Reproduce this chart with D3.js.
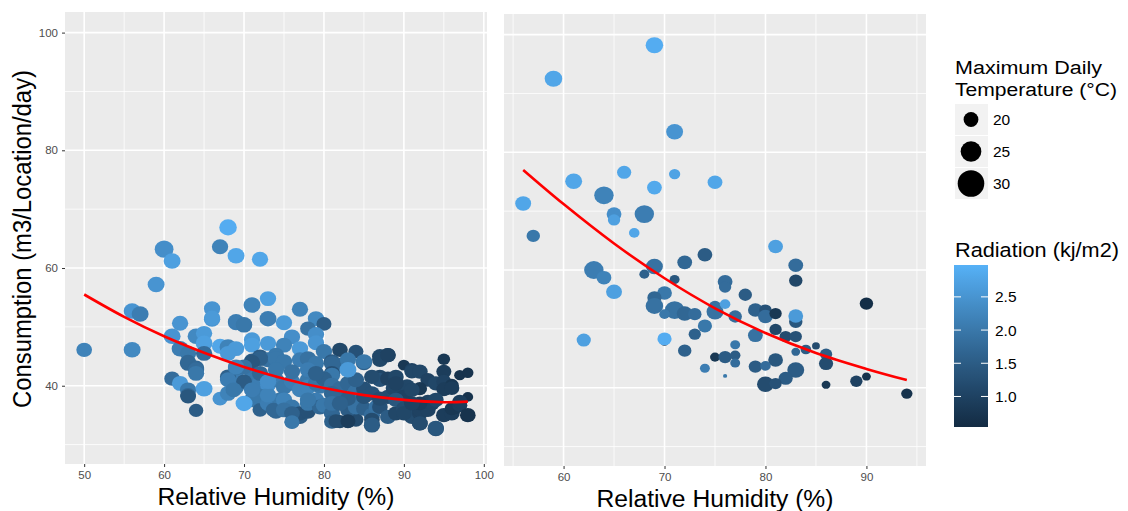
<!DOCTYPE html>
<html><head><meta charset="utf-8">
<script src="https://cdn.jsdelivr.net/npm/d3@7/dist/d3.min.js"></script>
<style>body{margin:0;background:#fff;}svg{display:block;font-family:"Liberation Sans",Arial,sans-serif;}</style>
</head><body><svg id="c" width="1128" height="511"></svg>
<script>
// ---- data: [humidity %, consumption, max temp °C, radiation kj/m2]
const leftPoints = [
[68,66.9,21.5,2.9],[60,63.2,22.5,2.4],[61,61.2,21,2.7],[67,63.6,20.5,2.2],[69,62.1,21,2.8],[72,61.5,20.5,2.8],
[59,57.2,21,2.5],[73,54.8,20.5,2.7],[71,53.7,21,2.2],[66,53.1,20.5,2.5],[77,53.0,20.5,2.2],[56,52.7,21,2.5],
[57,52.2,21,2.1],[73,51.4,21,2.1],[75,50.7,20.5,2.6],[66,51.3,20.5,2.5],[66,51.5,20.5,2.6],[62,50.6,20.5,2.5],[69,50.7,20.5,2.1],
[69,50.9,20.5,2.1],[70,50.3,20.5,2.0],[70,50.4,20.5,2.0],[79,51.4,20.5,2.3],[80,50.5,19.5,1.5],[78,49.7,20,1.9],[76,48.3,20.5,2.4],[79,48.7,20.5,2.4],
[79,47.3,20.5,2.5],[61,48.4,21,2.5],[64,48.4,21,2.3],[65,48.9,20.5,2.6],[65,47.2,21,2.7],[71,47.8,20.5,2.6],
[73,47.2,20.5,2.6],[71,46.9,20.5,2.7],[67,46.7,20.5,2.8],[68,46.6,21,2.2],[69,46.3,20.5,2.6],[75,46.9,20.5,2.2],[77,46.3,20.5,2.6],
[50,46.1,20,2.2],[56,46.1,21,2.3],[62,46.3,21,2.1],[63,45.5,20.5,2.0],[65,45.5,20.5,1.8],[80,45.8,20.5,2.0],
[82,46.1,20,1.1],[84,45.8,19.5,1.3],[87,45.0,20,1.1],[88,45.2,20,1.0],[85,43.9,20.5,1.6],[95,44.5,17.5,0.8],
[63,43.8,20.5,1.7],[63,44.0,20.5,1.7],[64,43.0,20.5,1.7],[64,42.7,20.5,1.8],[64,42.1,20.5,2.0],[71,44.2,20.5,1.5],[72,44.9,20.5,1.5],[73,44.4,20.5,1.9],
[72,44.6,20.5,1.6],[71,44.0,20.5,1.4],[74,45.2,20.5,2.0],
[74,44.6,20.5,2.0],[75,44.1,20.5,2.0],[77,44.4,20.5,2.1],[78,44.6,20.5,1.9],[79,43.8,20.5,2.0],[81,44.1,20.5,1.5],
[82,43.5,20.5,1.7],[81,43.8,20.5,1.7],[81,42.1,20.5,1.3],[87,44.4,20,1.1],[88,45.2,20,1.0],[85,44.1,20.5,2.0],
[90,43.5,17,0.8],[91,42.7,19.5,1.0],[91,42.4,19.5,1.1],[92,42.4,20,1.1],[95,42.4,19.5,0.9],
[97,41.8,16.5,0.7],[98,42.2,16.5,0.7],[87,41.5,20,1.1],[87,41.0,20,1.3],[88,41.2,20,1.0],[89,41.5,20,1.1],[93,41.0,19.5,1.0],
[94,40.4,20,1.1],[95,40.7,19.5,1.0],[96,40.1,18.5,0.8],[95,39.4,19.5,0.9],[96,39.6,19.5,0.9],[92,39.5,19,0.8],[61,41.2,20,1.8],[62,40.4,20.5,2.6],
[63,39.3,20.5,2.0],[63,38.4,20,1.7],[63,38.2,20,1.4],[65,39.5,21,2.7],[64,35.8,19,1.5],[67,37.8,19.5,2.5],[68,38.7,20.5,2.2],
[69,39.8,20.5,2.0],[69,41.6,20.5,2.1],[68,41.5,20.5,1.6],[69,43.0,20.5,2.0],[71,41.5,20.5,2.0],[72,40.4,20.5,2.1],[73,40.1,20,2.4],[74,41.0,20.5,2.1],
[73,40.7,20.5,2.4],[76,40.4,20.5,2.0],[78,41.0,20.5,2.0],[79.5,39.9,20.5,2.0],[81,41.8,20.5,2.0],
[75,39.8,20.5,2.0],[76,40.7,20.5,2.1],[77,39.3,20.5,2.2],[78,39.8,20.5,2.2],[79,40.4,20.5,1.9],[80,41.2,20.5,1.6],
[81,40.1,20.5,1.9],[82,39.5,20.5,1.8],[83,40.4,20.5,1.7],[84,39.0,20.5,1.9],[85,39.5,20,1.3],[86,38.7,20,1.3],[88,38.1,20,1.2],
[89,39.3,20,1.2],[88.7,39.6,20,1.1],[90.4,39.9,20,1.1],[90,38.1,20,1.0],[91,39.3,20,1.1],[76,42.4,20.5,1.9],[78,42.7,20.5,2.1],[79,42.1,20.5,1.6],
[74,42.7,20.5,2.0],[72,42.1,20.5,1.7],[70,43.2,20.5,1.9],[69,43.2,20.5,2.2],[68,45.5,20.5,2.6],[83,44.4,20.5,2.0],
[86,41.5,20,1.2],[84,41.0,20.5,1.6],[89,40.4,20,1.0],[70,40.7,20,1.5],[68,41.0,20.5,2.1],[68.7,39.3,20.5,2.0],
[71,37.6,20.5,2.0],[72,38.2,20.5,2.0],[72,35.9,19.5,1.6],[73,37.0,20.5,2.1],[74.5,37.6,20.5,2.0],[74,35.6,20,1.7],[73.7,35.9,20,1.7],[75,37.6,20.5,2.2],[76,33.9,19.5,1.9],
[76,36.4,20.5,2.0],[77,34.7,20,1.5],[77,35.3,20,1.3],[78,35.6,20,1.3],[78,37.0,20.5,2.0],[79,37.6,20.5,2.1],[79.5,36.4,20.5,1.7],[80,36.7,20.5,2.0],[81,35.3,20.5,1.7],
[82,33.9,19,1.1],[83,33.9,19,1.2],[84,34.2,19.5,1.2],[83,35.9,20,1.5],[84,37.0,20.5,1.8],[84,36.4,20.5,1.9],[82.5,37.6,20.5,1.7],[85,36.1,20,1.6],
[86,35.0,20.5,1.8],[86.6,36.4,20.5,1.9],[86,33.3,20.5,1.4],[87,36.4,20,1.3],[88,34.7,20,1.5],[89,35.3,20,1.1],[89,37.6,20,1.4],[90,36.1,20,1.2],
[91,34.7,20,1.2],[92,35.3,20,1.0],[92,35.9,20,1.0],[90,35.3,20,1.1],[92,33.6,20,1.1],[93,35.9,20,1.0],[93.5,37.0,20,1.0],[94,32.7,20.5,1.3],[95,35.0,20,0.9],
[96,35.3,20,0.9],[96.5,36.4,19.5,0.8],[96,36.1,19,0.8],[97,36.7,19.5,0.9],[98,35.0,20,0.7],[98,38.1,16,0.7],[97,37.3,19.5,0.9],[81,38.7,20.5,1.7],
[83,37.8,20,1.5],[85,38.1,20,1.3],[87,37.8,20,1.2],[93,37.3,19.5,1.0],[94,37.6,20,1.1],[92,37.0,19.5,0.9],
[91,37.0,20,1.0],[81,37.0,20.5,1.9],[82,37.0,20.5,1.6],[78,37.6,20.5,2.0],[75,35.9,20.5,1.9],[76,35.3,20,1.6],
[73,38.4,20.5,2.2],[71,39.3,20.5,2.1],[81,33.9,20,1.6],[86,34.2,20,1.2],[81.5,34.0,19.5,1.2],[83,34.0,19.5,0.9],
[86,33.4,20,1.5],[92,33.6,20,1.2],[94,32.8,20.5,1.4],[76,33.8,19.5,2.0],[70,37.0,21,2.8],[83,42.7,21,2.6],[73,40.7,20.5,2.4]
];
const rightPoints = [
[69,98.2,21.5,2.9],[59,92.5,21.5,2.8],[71,83.5,21,2.5],[66,76.6,18.8,2.8],[71,76.3,16.5,2.75],[61,75.1,21,2.8],
[75,74.9,19.3,2.8],[69,74.0,19.3,2.85],[64,72.7,23,2.2],[56,71.3,20.2,2.8],[65,69.5,19.3,2.4],[65,68.5,17.3,2.7],
[68,69.5,23,2.1],[67,66.3,15.9,2.8],[57,65.8,18.2,2.0],[81,64.0,19.3,2.7],[74,62.6,19.3,1.5],[72,61.3,19.3,1.7],
[83,60.8,19.3,1.8],[63,60.0,23,2.1],[69,60.6,21,1.9],[68,59.3,15.4,1.6],[64,58.7,19.3,2.2],[71,58.4,15.4,1.4],
[83,58.2,18.2,1.1],[76,58.0,19.3,1.8],[76,57.1,17.3,1.8],[65,56.3,20.2,2.7],[70,56.1,19.3,2.0],[78,55.8,18.2,1.5],
[69,55.3,18.8,1.7],[69,53.9,21.5,1.9],[90,54.3,18.2,0.6],[71,53.2,23,1.9],[72,52.6,20.2,1.7],[73,52.5,18.2,1.8],
[75,53.8,17.3,1.9],[75,52.9,21,1.9],[76,54.2,15.9,2.7],[70,52.5,15.9,2.0],[77,52.1,18.2,1.8],[79,53.2,19.3,1.6],
[80,53.2,17.3,1.3],[80,52.1,19.3,1.8],[81,52.6,17.3,0.8],[83,51.2,18.2,1.4],[83,52.2,19.3,2.6],[74,50.5,18.8,2.0],
[81,49.9,17.3,1.1],[73,49.1,17.3,1.6],[79,48.9,19.3,1.9],[82,48.7,17.3,1.2],[83,48.7,17.3,1.3],[62,48.1,18.8,2.7],
[70,47.7,13.1,0.7],[70,48.3,18.8,2.9],[77,47.3,15.4,2.0],[85,47.1,13.7,1.2],[84,46.5,15.9,1.5],[72,46.3,18.2,1.6],
[83,46.1,14.5,1.7],[86,45.7,17.3,1.5],[75,45.2,15.4,0.8],[76,45.2,18.2,1.5],[77,45.5,15.9,1.5],[77,44.2,15.4,1.8],
[81,44.7,19.3,1.4],[86,44.1,18.8,1.2],[79,43.6,18.2,1.5],[80,43.7,15.9,1.8],[74,43.3,15.4,2.1],[83,43.0,21,1.5],
[76,42.0,10.8,2.0],[82,41.6,18.8,1.5],[80,40.6,21,1.2],[81,40.7,17.3,1.3],[86,40.5,14.5,0.8],[89,41.1,17.3,1.0],
[90,41.9,14.5,0.7],[94,39.0,16.5,0.7]
];
// fitted trend lines
const leftFitX = [50,55,60,65,70,75,80,85,90,95,98];
const leftFitY = [55.5,51.7,48.4,45.6,43.2,41.2,39.6,38.4,37.6,37.2,37.3];
const rightFitX = [56,60,65,70,75,80,85,90,94];
const rightFitY = [77.0,71.2,64.5,58.6,53.5,49.3,45.9,43.2,41.3];
const yTicks = [40,60,80,100];
const yMinor = [30,50,70,90];
const leftXTicks = [50,60,70,80,90,100];
const rightXTicks = [60,70,80,90];
const xMinor = [55,65,75,85,95];
const sizeBreaks = [20,25,30];
const radBreaks = [1.0,1.5,2.0,2.5];

const svg = d3.select("#c");
const color = d3.scaleLinear().domain([0.54,2.98]).range(["#132B43","#56B1F7"]).interpolate(d3.interpolateLab);
const size = d3.scaleLinear().domain([10,30]).range([1.5,13.3]);

function panel(cfg){
  const g = svg.append("g");
  const x = d3.scaleLinear().domain(cfg.xdom).range([cfg.x0,cfg.x1]);
  const y = d3.scaleLinear().domain([26.7,103.5]).range([cfg.y1,cfg.y0]);
  g.append("rect").attr("x",cfg.x0).attr("y",cfg.y0).attr("width",cfg.x1-cfg.x0).attr("height",cfg.y1-cfg.y0).attr("fill","#EBEBEB");
  g.selectAll(null).data(yMinor).join("line")
    .attr("x1",cfg.x0).attr("x2",cfg.x1).attr("y1",d=>y(d)).attr("y2",d=>y(d)).attr("stroke","#fff").attr("stroke-width",0.8);
  g.selectAll(null).data(xMinor).join("line")
    .attr("y1",cfg.y0).attr("y2",cfg.y1).attr("x1",d=>x(d)).attr("x2",d=>x(d)).attr("stroke","#fff").attr("stroke-width",0.8);
  g.selectAll(null).data(yTicks).join("line")
    .attr("x1",cfg.x0).attr("x2",cfg.x1).attr("y1",d=>y(d)).attr("y2",d=>y(d)).attr("stroke","#fff").attr("stroke-width",1.6);
  g.selectAll(null).data(cfg.xticks).join("line")
    .attr("y1",cfg.y0).attr("y2",cfg.y1).attr("x1",d=>x(d)).attr("x2",d=>x(d)).attr("stroke","#fff").attr("stroke-width",1.6);
  const xa = g.append("g").attr("transform",`translate(0,${cfg.y1})`)
    .call(d3.axisBottom(x).tickValues(cfg.xticks).tickSize(3).tickPadding(4).tickFormat(d3.format("d")));
  xa.select(".domain").remove();
  xa.selectAll("line").attr("stroke","#333");
  xa.selectAll("text").attr("fill","#4D4D4D").attr("font-size",11.5).attr("font-family","Liberation Sans, Arial, sans-serif");
  if(cfg.yaxis){
    const ya = g.append("g").attr("transform",`translate(${cfg.x0},0)`)
      .call(d3.axisLeft(y).tickValues(yTicks).tickSize(3).tickPadding(4));
    ya.select(".domain").remove();
    ya.selectAll("line").attr("stroke","#333");
    ya.selectAll("text").attr("fill","#4D4D4D").attr("font-size",11.5).attr("font-family","Liberation Sans, Arial, sans-serif");
  }
  g.selectAll(null).data(cfg.points).join("ellipse")
    .attr("cx",d=>x(d[0])).attr("cy",d=>y(d[1])).attr("rx",d=>size(d[2])*1.06).attr("ry",d=>size(d[2])*0.97).attr("fill",d=>color(d[3]));
  const fit = cfg.fitX.map((v,i)=>[v,cfg.fitY[i]]);
  g.append("path").datum(fit).attr("fill","none").attr("stroke","#FF0000").attr("stroke-width",2.6)
    .attr("d",d3.line().x(d=>x(d[0])).y(d=>y(d[1])).curve(d3.curveCatmullRom));
  g.append("text").attr("x",(cfg.x0+cfg.x1)/2).attr("y",cfg.y1+41).attr("text-anchor","middle")
    .attr("font-size",23).attr("fill","#000").attr("textLength",237).attr("lengthAdjust","spacingAndGlyphs")
    .text("Relative Humidity (%)");
}

panel({x0:65,x1:487,y0:12,y1:464,xdom:[47.6,100.4],xticks:leftXTicks,
  points:leftPoints,fitX:leftFitX,fitY:leftFitY,yaxis:true});
panel({x0:504,x1:926,y0:14,y1:466,xdom:[54.1,95.9],xticks:rightXTicks,
  points:rightPoints,fitX:rightFitX,fitY:rightFitY,yaxis:false});

svg.append("text").attr("transform","translate(31,239) scale(1.12,1) rotate(-90)").attr("text-anchor","middle")
  .attr("font-size",23.5).attr("fill","#000").attr("textLength",338).attr("lengthAdjust","spacingAndGlyphs")
  .text("Consumption (m3/Location/day)");

const lg = svg.append("g");
lg.append("text").attr("x",955).attr("y",73.5).attr("font-size",19.2).attr("textLength",147).attr("lengthAdjust","spacingAndGlyphs").text("Maximum Daily");
lg.append("text").attr("x",955).attr("y",95.5).attr("font-size",19.2).attr("textLength",162).attr("lengthAdjust","spacingAndGlyphs").text("Temperature (°C)");
sizeBreaks.forEach((v,i)=>{
  const yy = 104 + i*32;
  lg.append("rect").attr("x",955).attr("y",yy).attr("width",33).attr("height",31).attr("fill","#F2F2F2");
  lg.append("circle").attr("cx",971).attr("cy",yy+15.5).attr("r",size(v)).attr("fill","#000");
  lg.append("text").attr("x",993).attr("y",yy+15.5).attr("dy","0.36em").attr("font-size",15.5).text(v);
});

lg.append("text").attr("x",955).attr("y",257).attr("font-size",20.5).attr("textLength",164).attr("lengthAdjust","spacingAndGlyphs").text("Radiation (kj/m2)");
const cb = d3.scaleLinear().domain([0.54,2.98]).range([427,265]);
const defs = svg.append("defs");
const grad = defs.append("linearGradient").attr("id","rg").attr("x1",0).attr("y1",1).attr("x2",0).attr("y2",0);
d3.range(0,1.0001,0.05).forEach(t=>{
  grad.append("stop").attr("offset",t).attr("stop-color",color(0.54+t*(2.98-0.54)));
});
lg.append("rect").attr("x",954).attr("y",265).attr("width",34).attr("height",162).attr("fill","url(#rg)");
radBreaks.forEach(v=>{
  lg.append("line").attr("x1",954).attr("x2",961).attr("y1",cb(v)).attr("y2",cb(v)).attr("stroke","#fff").attr("stroke-width",1);
  lg.append("line").attr("x1",981).attr("x2",988).attr("y1",cb(v)).attr("y2",cb(v)).attr("stroke","#fff").attr("stroke-width",1);
  lg.append("text").attr("x",995).attr("y",cb(v)).attr("dy","0.36em").attr("font-size",15.5).text(d3.format(".1f")(v));
});
</script></body></html>
